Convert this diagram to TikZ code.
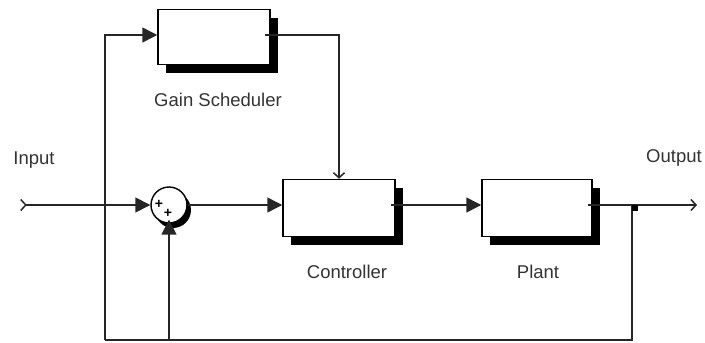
\documentclass[tikz,border=0pt]{standalone}
\usepackage{fontspec}
\setmainfont{Liberation Sans}
\usetikzlibrary{arrows.meta,shadows}
\begin{document}
\begin{tikzpicture}[x=1pt,y=-1pt,
  wire/.style={line width=1.5pt, draw=black!85},
  fa/.style={wire,-{Triangle[length=15pt,width=15pt]}},
  oa/.style={wire,-{Straight Barb[length=5pt,width=11pt]}},
  blk/.style={draw, line width=1.5pt, fill=white, minimum width=112pt, minimum height=57pt, inner sep=0pt,
    drop shadow={shadow xshift=8pt, shadow yshift=-8pt, fill=black, opacity=1}},
  sumblk/.style={circle, draw, line width=1.4pt, fill=white, minimum size=36pt, inner sep=0pt,
    drop shadow={shadow xshift=4pt, shadow yshift=-5pt, fill=black, opacity=1}},
  lbl/.style={font=\fontsize{18.5}{20}\selectfont, text=black!80, anchor=base, inner sep=0pt},
  plus/.style={font=\bfseries\fontsize{14}{14}\selectfont, inner sep=0pt},
]
\useasboundingbox (0,0) rectangle (705,343);
\node[blk, minimum height=55pt] (gs) at (214,37) {};
\node[blk] (ctrl) at (339,208) {};
\node[blk, minimum width=110pt] (plant) at (537,208) {};
\node[sumblk] (sum) at (169,205) {};
\node[plus] (p1) at (159,204) {+};
\node[plus] (p2) at (168,213) {+};

\coordinate (in) at (20,205);
\coordinate (tl) at (105,35);
\coordinate (bl) at (105,340);
\coordinate (br) at (632,340);
\coordinate (branch) at (632,205);
\coordinate (out) at (697,205);
\coordinate (fb) at (169,340);
\coordinate (gsout) at (265,35);

\draw[wire, {Straight Barb[reversed,length=5pt,width=11pt]}-{Triangle[length=15pt,width=15pt]}] (in) -- (sum.west);
\draw[fa] (bl) -- (tl) -- (gs.west |- tl);
\draw[wire] (bl) -- (br) -- (branch);
\draw[fa] (fb) -- ([yshift=4pt]sum.south);
\draw[fa] (sum.east) -- (ctrl.west |- sum.east);
\draw[oa] (gsout) -| (ctrl.north);
\draw[fa] ([xshift=-5pt]ctrl.east |- sum.east) -- (plant.west |- sum.east);
\draw[oa] ([xshift=-5pt]plant.east |- sum.east) -- (out);
\node[fill=black, minimum size=6pt, inner sep=0pt] (dot) at (635,208) {};

\node[lbl] (lgs) at (218,106) {Gain Scheduler};
\node[lbl] (lctrl) at (347,278) {Controller};
\node[lbl] (lplant) at (538,278) {Plant};
\node[lbl] (lin) at (34,164) {Input};
\node[lbl] (lout) at (674,162) {Output};
\end{tikzpicture}
\end{document}
